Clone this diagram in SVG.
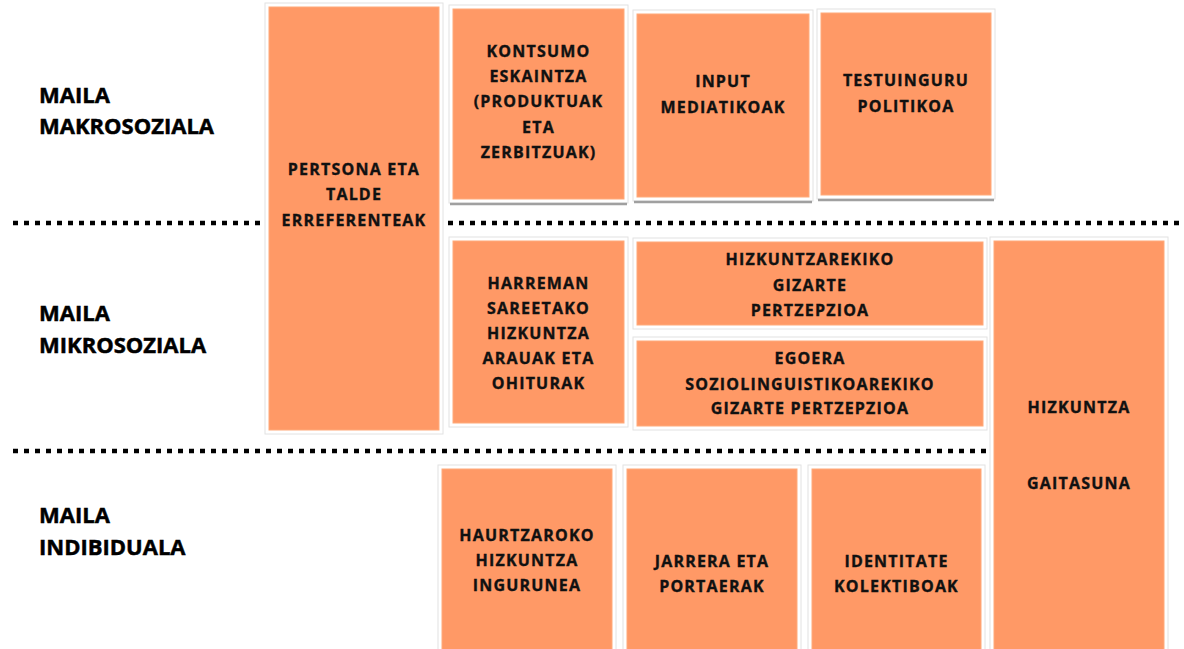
<svg xmlns="http://www.w3.org/2000/svg" width="1184" height="649" viewBox="0 0 1184 649">
<style>
.frame{fill:#ffffff;stroke:#e2e2e2;stroke-width:1}
.box{fill:#FF9966;stroke:#FFAA7A;stroke-width:1}
.shadow{stroke:#a0a0a0;stroke-width:2.5}
.t{font-family:"Open Sans","DejaVu Sans",sans-serif;font-weight:bold;font-size:16px;fill:#111;stroke:#111;stroke-width:0.35;text-anchor:middle;letter-spacing:1.2px}
.lv{font-family:"Open Sans","DejaVu Sans",sans-serif;font-weight:bold;font-size:22px;fill:#000;stroke:#000;stroke-width:0.5}
.dot{stroke:#000;stroke-width:4.5;stroke-dasharray:5 6;fill:none}
</style>
<rect width="1184" height="649" fill="#ffffff"/>
<g id="levels">
<text class="lv" x="39" y="103">MAILA</text>
<text class="lv" x="39" y="134">MAKROSOZIALA</text>
<text class="lv" x="39" y="321">MAILA</text>
<text class="lv" x="39" y="353">MIKROSOZIALA</text>
<text class="lv" x="39" y="523">MAILA</text>
<text class="lv" x="39" y="555">INDIBIDUALA</text>
</g>
<g id="connectors">
<line class="dot" x1="13" y1="223" x2="263" y2="223"/>
<line class="dot" x1="448" y1="223" x2="1184" y2="223"/>
<line class="dot" x1="13" y1="451" x2="987" y2="451"/>
</g>
<g id="n-pertsona">
<rect class="frame" x="265" y="3" width="178" height="431"/>
<rect class="box" x="269" y="7" width="170" height="423"/>
<text class="t" x="354" y="175">PERTSONA ETA</text>
<text class="t" x="354" y="200">TALDE</text>
<text class="t" x="354" y="226">ERREFERENTEAK</text>
</g>
<g id="n-kontsumo">
<rect class="frame" x="449" y="5" width="179" height="198"/>
<line class="shadow" x1="450" y1="204" x2="627" y2="204"/>
<rect class="box" x="453" y="9" width="171" height="190"/>
<text class="t" x="538.5" y="57">KONTSUMO</text>
<text class="t" x="538.5" y="82">ESKAINTZA</text>
<text class="t" x="538.5" y="107">(PRODUKTUAK</text>
<text class="t" x="538.5" y="133">ETA</text>
<text class="t" x="538.5" y="158">ZERBITZUAK)</text>
</g>
<g id="n-input">
<rect class="frame" x="633" y="10" width="180" height="191"/>
<line class="shadow" x1="634" y1="202" x2="812" y2="202"/>
<rect class="box" x="637" y="14" width="172" height="183"/>
<text class="t" x="723" y="87">INPUT</text>
<text class="t" x="723" y="113">MEDIATIKOAK</text>
</g>
<g id="n-testuinguru">
<rect class="frame" x="817" y="9" width="178" height="190"/>
<line class="shadow" x1="818" y1="200" x2="994" y2="200"/>
<rect class="box" x="821" y="13" width="170" height="182"/>
<text class="t" x="906" y="86">TESTUINGURU</text>
<text class="t" x="906" y="112">POLITIKOA</text>
</g>
<g id="n-harreman">
<rect class="frame" x="449" y="237" width="179" height="190"/>
<rect class="box" x="453" y="241" width="171" height="182"/>
<text class="t" x="538.5" y="289">HARREMAN</text>
<text class="t" x="538.5" y="314">SAREETAKO</text>
<text class="t" x="538.5" y="339">HIZKUNTZA</text>
<text class="t" x="538.5" y="364">ARAUAK ETA</text>
<text class="t" x="538.5" y="389">OHITURAK</text>
</g>
<g id="n-hizkuntzarekiko">
<rect class="frame" x="633" y="238" width="354" height="91"/>
<rect class="box" x="637" y="242" width="346" height="83"/>
<text class="t" x="810" y="265">HIZKUNTZAREKIKO</text>
<text class="t" x="810" y="291">GIZARTE</text>
<text class="t" x="810" y="316">PERTZEPZIOA</text>
</g>
<g id="n-egoera">
<rect class="frame" x="633" y="337" width="354" height="93"/>
<rect class="box" x="637" y="341" width="346" height="85"/>
<text class="t" x="810" y="364">EGOERA</text>
<text class="t" x="810" y="390">SOZIOLINGUISTIKOAREKIKO</text>
<text class="t" x="810" y="414">GIZARTE PERTZEPZIOA</text>
</g>
<g id="n-gaitasuna">
<rect class="frame" x="990" y="237" width="178" height="416"/>
<rect class="box" x="994" y="241" width="170" height="412"/>
<text class="t" x="1079" y="413">HIZKUNTZA</text>
<text class="t" x="1079" y="489">GAITASUNA</text>
</g>
<g id="n-haurtzaroko">
<rect class="frame" x="438" y="465" width="178" height="188"/>
<rect class="box" x="442" y="469" width="170" height="184"/>
<text class="t" x="527" y="541">HAURTZAROKO</text>
<text class="t" x="527" y="566">HIZKUNTZA</text>
<text class="t" x="527" y="591">INGURUNEA</text>
</g>
<g id="n-jarrera">
<rect class="frame" x="623" y="465" width="178" height="188"/>
<rect class="box" x="627" y="469" width="170" height="184"/>
<text class="t" x="712" y="567">JARRERA ETA</text>
<text class="t" x="712" y="592">PORTAERAK</text>
</g>
<g id="n-identitate">
<rect class="frame" x="808" y="465" width="177" height="188"/>
<rect class="box" x="812" y="469" width="169" height="184"/>
<text class="t" x="896.5" y="567">IDENTITATE</text>
<text class="t" x="896.5" y="592">KOLEKTIBOAK</text>
</g>
</svg>
